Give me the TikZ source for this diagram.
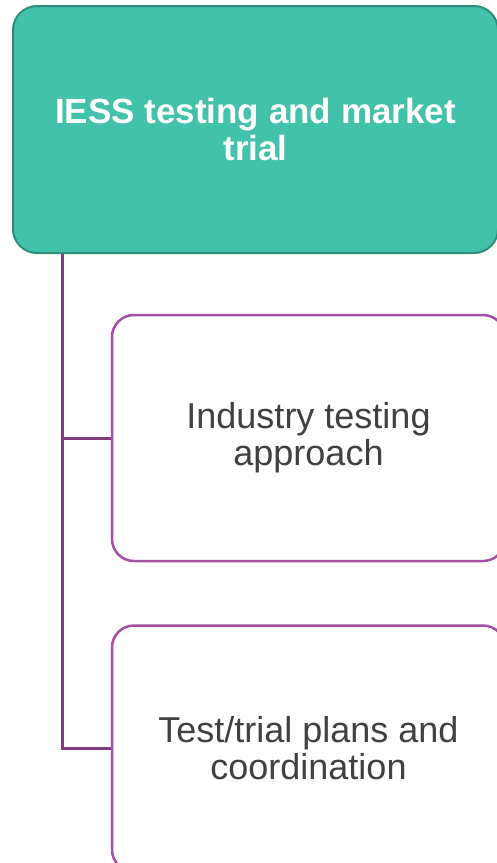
\documentclass[tikz,border=0pt]{standalone}
\usepackage{fontspec}
\setmainfont{Liberation Sans}
\usepackage{xcolor}
\usepackage{tikz}
\usetikzlibrary{positioning, calc}
\definecolor{seagreen}{RGB}{66,194,170}
\definecolor{darkseagreen}{RGB}{47,140,122}
\definecolor{plumline}{RGB}{131,60,130}
\definecolor{plumborder}{RGB}{163,80,163}
\definecolor{textgrey}{RGB}{64,64,64}

\begin{document}
\begin{tikzpicture}[x=1pt, y=1pt]
	\tikzstyle{topbox}=[draw=darkseagreen, line width=2pt, fill=seagreen, rounded corners=24pt, minimum width=485pt, minimum height=247pt, text=white, align=center, font=\bfseries\fontsize{35}{37}\selectfont]
	
	\tikzstyle{subbox}=[draw=plumborder, line width=2.5pt, fill=white, rounded corners=22pt, minimum width=393pt, minimum height=246pt, text=textgrey, align=center, font=\fontsize{36}{37}\selectfont]
	\tikzstyle{branch}=[draw=plumline, line width=3pt]
	
	\useasboundingbox (0,0) rectangle (497,-863);
	
	\node [topbox] (Top) at (255.5,-129.5) {IESS testing and market\\trial};
	
	\node [subbox] (Sub1) at (308.5,-438) {Industry testing\\approach};
	\node [subbox, below=62pt of Sub1] (Sub2) {Test/trial plans and\\coordination};
	
	%% trunk hangs from the bottom edge of the top box
	\coordinate (trunk) at ($(Top.south west)+(50,0)$);
	\draw [branch] (trunk) |- (Sub1.west);
	\draw [branch] (trunk) |- (Sub2.west);
\end{tikzpicture}
\end{document}
